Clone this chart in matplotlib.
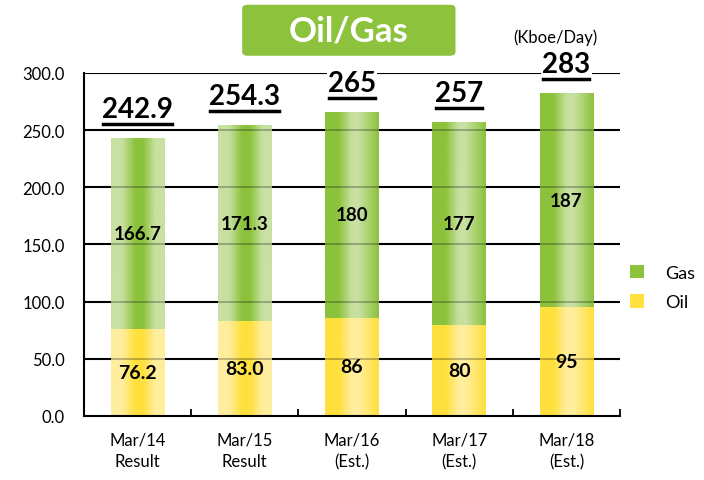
import numpy as np
import matplotlib
matplotlib.use("Agg")
import matplotlib.pyplot as plt
from matplotlib.patches import FancyBboxPatch, Patch
from matplotlib.colors import LinearSegmentedColormap
from matplotlib.lines import Line2D

plt.rcParams['font.family'] = ['Lato', 'DejaVu Sans']

# data
categories = ["Mar/14\nResult", "Mar/15\nResult", "Mar/16\n(Est.)", "Mar/17\n(Est.)", "Mar/18\n(Est.)"]
oil = [76.2, 83.0, 86, 80, 95]
gas = [166.7, 171.3, 180, 177, 187]
oil_labels = ["76.2", "83.0", "86", "80", "95"]
gas_labels = ["166.7", "171.3", "180", "177", "187"]
total_labels = ["242.9", "254.3", "265", "257", "283"]
is_estimate = [False, False, True, True, True]

GAS_DARK, GAS_LIGHT = "#8CC23C", "#C8E1A2"
OIL_DARK, OIL_LIGHT = "#FFE03C", "#FFEE9E"

fig = plt.figure(figsize=(7.04, 4.81), dpi=100)
ax = fig.add_axes([0.1193, 0.1331, 0.7614, 0.7131])

x = np.arange(len(categories))
oil_bars = ax.bar(x, oil, width=0.5, color="none", zorder=2)
gas_bars = ax.bar(x, gas, bottom=oil, width=0.5, color="none", zorder=2)

def gradient(light, dark, est):
    # horizontal gradient across a bar
    if est:
        stops = [(0, dark), (0.25, dark), (0.5, light), (0.62, light), (1, dark)]
    else:
        stops = [(0, light), (0.2, light), (0.45, dark), (0.6, dark), (0.82, light), (1, light)]
    return LinearSegmentedColormap.from_list("g", stops)

grad = np.linspace(0, 1, 200).reshape(1, -1)
for bars, light, dark in [(oil_bars, OIL_LIGHT, OIL_DARK), (gas_bars, GAS_LIGHT, GAS_DARK)]:
    for p, est in zip(bars.patches, is_estimate):
        x0, y0 = p.get_x(), p.get_y()
        ax.imshow(grad, cmap=gradient(light, dark, est), aspect="auto",
                  extent=[x0, x0 + p.get_width(), y0, y0 + p.get_height()],
                  zorder=2, interpolation="bicubic")

ax.set_xlim(-0.5, len(categories) - 0.5)
ax.set_ylim(0, 300)

# grid lines, faintly visible through the bars too
yt = np.arange(0, 301, 50)
for v in yt[1:]:
    ax.axhline(v, color="black", lw=1.5, zorder=1)
    ax.axhline(v, color="black", lw=1.2, alpha=0.3, zorder=3)

ax.set_yticks(yt)
ax.set_yticklabels(["%.1f" % v for v in yt], fontsize=12)
ax.tick_params(axis="y", length=0, pad=14)
ax.set_xticks(x)
ax.set_xticklabels(categories, fontsize=12, linespacing=1.45)
ax.tick_params(axis="x", length=0, pad=11)
ax.set_xticks(np.arange(0.5, len(categories)), minor=True)
ax.tick_params(axis="x", which="minor", direction="in", length=5, width=1.3)

for s in ["top", "right"]:
    ax.spines[s].set_visible(False)
for s in ["left", "bottom"]:
    ax.spines[s].set_linewidth(1.5)
    ax.spines[s].set_zorder(4)

# value labels
for i in range(len(categories)):
    ax.text(x[i], oil[i] / 2, oil_labels[i], ha="center", va="center",
            fontsize=14, fontweight="bold", zorder=5)
    ax.text(x[i], oil[i] + gas[i] / 2, gas_labels[i], ha="center", va="center",
            fontsize=13.5, fontweight="bold", zorder=5)

totals = []
for i in range(len(categories)):
    t = ax.annotate(total_labels[i], (x[i], oil[i] + gas[i]), xytext=(0, 21),
                    textcoords="offset points", ha="center", va="center",
                    fontsize=20, fontweight="bold", zorder=6, annotation_clip=False,
                    bbox=dict(facecolor="white", edgecolor="none", pad=1))
    totals.append(t)

# title box
fig.patches.append(FancyBboxPatch((0.347, 0.885), 0.297, 0.1, transform=fig.transFigure,
                                  boxstyle="round,pad=0.003,rounding_size=0.008",
                                  facecolor="#8CC23C", edgecolor="none"))
fig.text(0.495, 0.935, "Oil/Gas", color="white", fontsize=25, fontweight="bold",
         ha="center", va="center")
fig.text(0.789, 0.921, "(Kboe/Day)", fontsize=12, ha="center", va="center")

handles = [Patch(facecolor=GAS_DARK), Patch(facecolor="#FFE23F")]
fig.legend(handles, ["Gas", "Oil"], loc="center left", bbox_to_anchor=(0.895, 0.4),
           frameon=False, fontsize=13, handlelength=0.75, handleheight=0.75,
           handletextpad=1.2, labelspacing=0.75, borderpad=0, borderaxespad=0)

# underline the totals
fig.canvas.draw()
r = fig.canvas.get_renderer()
for t in totals:
    bb = t.get_window_extent(r)
    y = bb.y0 - 2
    fig.add_artist(Line2D([bb.x0 + 1, bb.x1 - 1], [y, y], transform=None,
                          color="black", lw=2.5))

fig.savefig("out.png", dpi=100)
